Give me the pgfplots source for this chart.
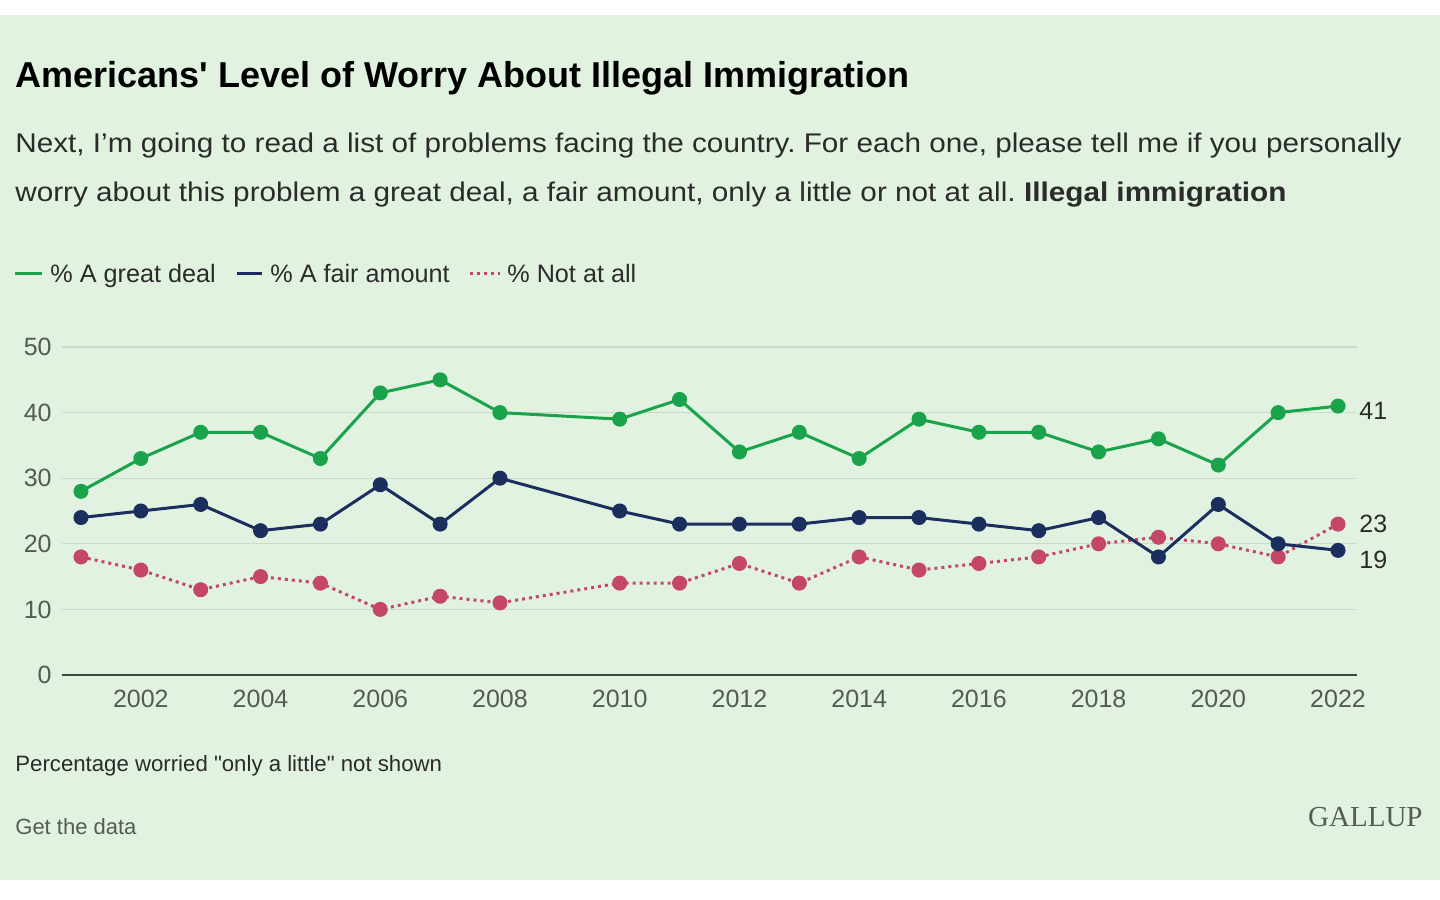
\documentclass[border=0pt]{standalone}
\usepackage{pgfplots}
\pgfplotsset{compat=1.18}
\usepackage{fontspec}
\setmainfont{Liberation Sans}
\newfontfamily\subfont[FakeStretch=1.1]{Liberation Sans}
\newfontfamily\gallupfont{Liberation Serif}
\definecolor{bgc}{HTML}{E1F3E0}
\definecolor{gc}{HTML}{1AA34A}
\definecolor{nc}{HTML}{1B2F5E}
\definecolor{pc}{HTML}{C4476A}
\definecolor{txt}{HTML}{2B2B2B}
\definecolor{tick}{HTML}{555A55}
\definecolor{gridc}{HTML}{CCDACB}
\definecolor{axc}{HTML}{3B4A3B}
\frenchspacing
\begin{document}
\begin{tikzpicture}
\fill[white] (0,0) rectangle (720bp,450bp);
\fill[bgc] (0,10bp) rectangle (720bp,442.5bp);
% title and subtitle
\node[anchor=base west, inner sep=0pt, text=black] at (7.5bp,406bp) {\fontsize{18bp}{20bp}\selectfont\bfseries Americans\textquotesingle{} Level of Worry About Illegal Immigration};
\node[anchor=base west, inner sep=0pt, text=txt] at (7.5bp,373.5bp) {\subfont\fontsize{13.5bp}{15bp}\selectfont Next, I’m going to read a list of problems facing the country. For each one, please tell me if you personally};
\node[anchor=base west, inner sep=0pt, text=txt] at (7.5bp,349bp) {\subfont\fontsize{13.5bp}{15bp}\selectfont worry about this problem a great deal, a fair amount, only a little or not at all. \textbf{Illegal immigration}};
% legend
\draw[gc, line width=1.5bp] (7.5bp,313bp) -- (21bp,313bp);
\node[anchor=base west, inner sep=0pt, text=txt] at (25bp,308.5bp) {\fontsize{12.6bp}{15bp}\selectfont \% A great deal};
\draw[nc, line width=1.5bp] (118.5bp,313bp) -- (131bp,313bp);
\node[anchor=base west, inner sep=0pt, text=txt] at (135bp,308.5bp) {\fontsize{12.6bp}{15bp}\selectfont \% A fair amount};
\draw[pc, line width=1.5bp, dash pattern=on 1.5bp off 2bp] (235bp,313bp) -- (250bp,313bp);
\node[anchor=base west, inner sep=0pt, text=txt] at (253.5bp,308.5bp) {\fontsize{12.6bp}{15bp}\selectfont \% Not at all};
% footer
\node[anchor=base west, inner sep=0pt, text=txt] at (7.5bp,64bp) {\fontsize{11.1bp}{13bp}\selectfont Percentage worried \textquotedbl only a little\textquotedbl{} not shown};
\node[anchor=base west, inner sep=0pt, text=tick] at (7.5bp,33bp) {\fontsize{11bp}{13bp}\selectfont Get the data};
\node[anchor=base east, inner sep=0pt, text=tick] at (711.5bp,37bp) {\fontsize{14.5bp}{16bp}\selectfont\gallupfont GALLUP};
\begin{axis}[
  at={(31bp,112.5bp)}, anchor=south west,
  scale only axis, width=647.5bp, height=164bp,
  xmin=2000.683, xmax=2022.317, ymin=0, ymax=50,
  axis line style={draw=none},
  major tick length=0pt,
  xtick={2002,2004,...,2022},
  ytick={0,10,...,50},
  ymajorgrids, grid style={gridc, line width=0.6bp},
  /pgf/number format/assume math mode=true,
  /pgf/number format/1000 sep={},
  xticklabel style={anchor=base, inner sep=0pt, yshift=-16.5bp, text=tick, font=\fontsize{12.5bp}{15bp}\selectfont},
  yticklabel style={anchor=east, inner sep=0pt, xshift=-5bp, text=tick, font=\fontsize{12.5bp}{15bp}\selectfont},
  clip=false,
]
\draw[axc, line width=1.1bp] (rel axis cs:0,0) -- (rel axis cs:1,0);
\addplot[pc, line width=1.5bp, dash pattern=on 1.5bp off 2bp, mark=*, mark size=3bp, mark options={solid, fill=pc, draw=pc}] coordinates {
(2001,18)(2002,16)(2003,13)(2004,15)(2005,14)(2006,10)(2007,12)(2008,11)(2010,14)(2011,14)(2012,17)(2013,14)(2014,18)(2015,16)(2016,17)(2017,18)(2018,20)(2019,21)(2020,20)(2021,18)(2022,23)};
\addplot[nc, line width=1.5bp, mark=*, mark size=3bp, mark options={fill=nc, draw=nc}] coordinates {
(2001,24)(2002,25)(2003,26)(2004,22)(2005,23)(2006,29)(2007,23)(2008,30)(2010,25)(2011,23)(2012,23)(2013,23)(2014,24)(2015,24)(2016,23)(2017,22)(2018,24)(2019,18)(2020,26)(2021,20)(2022,19)};
\addplot[gc, line width=1.5bp, mark=*, mark size=3bp, mark options={fill=gc, draw=gc}] coordinates {
(2001,28)(2002,33)(2003,37)(2004,37)(2005,33)(2006,43)(2007,45)(2008,40)(2010,39)(2011,42)(2012,34)(2013,37)(2014,33)(2015,39)(2016,37)(2017,37)(2018,34)(2019,36)(2020,32)(2021,40)(2022,41)};
\node[anchor=west, inner sep=0pt, text=txt, font=\fontsize{12.5bp}{15bp}\selectfont] at (axis cs:2022.317,41) [xshift=1bp, yshift=-2.5bp] {41};
\node[anchor=west, inner sep=0pt, text=txt, font=\fontsize{12.5bp}{15bp}\selectfont] at (axis cs:2022.317,23) [xshift=1bp] {23};
\node[anchor=west, inner sep=0pt, text=txt, font=\fontsize{12.5bp}{15bp}\selectfont] at (axis cs:2022.317,19) [xshift=1bp, yshift=-5bp] {19};
\end{axis}
\end{tikzpicture}
\end{document}
